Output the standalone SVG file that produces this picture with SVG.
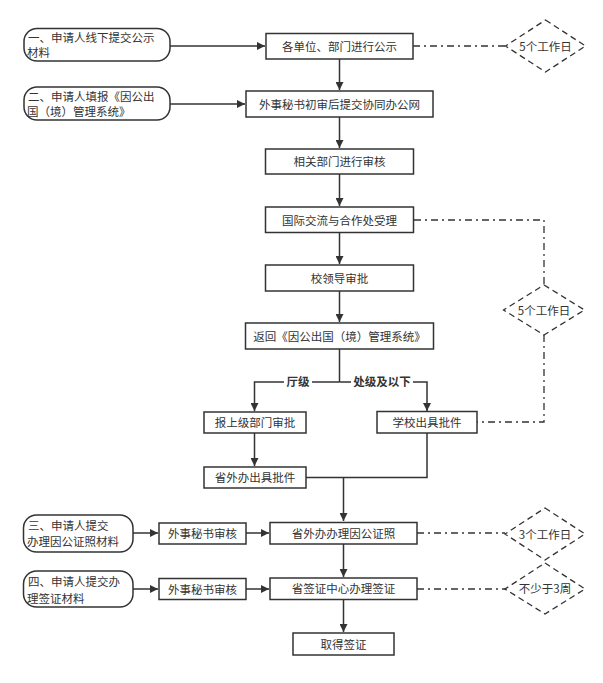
<svg xmlns="http://www.w3.org/2000/svg" width="603" height="683" viewBox="0 0 603 683">
<style>
text{font-family:"Noto Sans CJK SC","Noto Sans",sans-serif;font-size:11.5px;fill:#333}
.c{text-anchor:middle}
.b{font-weight:bold}
.box{fill:#fff;stroke:#333;stroke-width:1.5}
.dia{fill:#fff;stroke:#333;stroke-width:1.3;stroke-dasharray:6 4}
.ln{fill:none;stroke:#333;stroke-width:1.5}
.dd{fill:none;stroke:#333;stroke-width:1.3;stroke-dasharray:7 4 2 4}
</style>
<defs>
<marker id="ah" viewBox="0 0 10 10" refX="10" refY="5" markerWidth="8" markerHeight="8" markerUnits="userSpaceOnUse" orient="auto">
<path d="M0,0 L10,5 L0,10 z" fill="#333"/>
</marker>
</defs>
<rect width="603" height="683" fill="#fff"/>
<g id="connectors">
<path class="ln" d="M170,46 H265" marker-end="url(#ah)"/>
<path class="ln" d="M170,104 H245" marker-end="url(#ah)"/>
<path class="ln" d="M339.5,59 V90" marker-end="url(#ah)"/>
<path class="ln" d="M339.5,117 V148" marker-end="url(#ah)"/>
<path class="ln" d="M339.5,174 V206" marker-end="url(#ah)"/>
<path class="ln" d="M339.5,232 V264" marker-end="url(#ah)"/>
<path class="ln" d="M339.5,291 V322" marker-end="url(#ah)"/>
<path class="ln" d="M339.5,349 V382"/>
<path class="ln" d="M339.5,382 H254.5 V411" marker-end="url(#ah)"/>
<path class="ln" d="M339.5,382 H427 V411" marker-end="url(#ah)"/>
<path class="ln" d="M254.5,433 V466" marker-end="url(#ah)"/>
<path class="ln" d="M427,433 V477.5 H306"/>
<path class="ln" d="M343.5,477.5 V521" marker-end="url(#ah)"/>
<path class="ln" d="M133,533 H158" marker-end="url(#ah)"/>
<path class="ln" d="M246,533 H269" marker-end="url(#ah)"/>
<path class="ln" d="M133,589 H158" marker-end="url(#ah)"/>
<path class="ln" d="M246,589 H269" marker-end="url(#ah)"/>
<path class="ln" d="M343.5,544 V577" marker-end="url(#ah)"/>
<path class="ln" d="M343.5,599 V632" marker-end="url(#ah)"/>
<path class="dd" d="M413,46 H506"/>
<path class="dd" d="M414,220 H544 V285"/>
<path class="dd" d="M544,335 V422 H477"/>
<path class="dd" d="M417,533 H505"/>
<path class="dd" d="M417,589 H505"/>
<rect x="284" y="374" width="28" height="16" fill="#fff"/>
<text class="c b" x="298" y="386">厅级</text>
<rect x="351" y="374" width="62" height="16" fill="#fff"/>
<text class="c b" x="382" y="386">处级及以下</text>
</g>
<g id="start1">
<rect class="box" x="24" y="28.5" width="146" height="32.5" rx="13"/>
<text x="28" y="41.5">一、申请人线下提交公示</text>
<text x="27" y="56.5">材料</text>
</g>
<g id="start2">
<rect class="box" x="24" y="87" width="146" height="33" rx="13"/>
<text x="28" y="100.5">二、申请人填报《因公出</text>
<text x="27" y="115.5">国（境）管理系统》</text>
</g>
<g id="n1">
<rect class="box" x="266" y="33.5" width="147" height="25.5"/>
<text class="c" x="339.5" y="50.5">各单位、部门进行公示</text>
</g>
<g id="d1">
<path class="dia" d="M545.5,20 L585.5,46 L545.5,72 L505.5,46 z"/>
<text class="c" x="545.5" y="50.5">5个工作日</text>
</g>
<g id="n2">
<rect class="box" x="246" y="91" width="187" height="26"/>
<text class="c" x="339.5" y="108.5">外事秘书初审后提交协同办公网</text>
</g>
<g id="n3">
<rect class="box" x="265.5" y="149" width="148" height="25"/>
<text class="c" x="339.5" y="166">相关部门进行审核</text>
</g>
<g id="n4">
<rect class="box" x="265.5" y="207" width="148" height="25.5"/>
<text class="c" x="339.5" y="224.5">国际交流与合作处受理</text>
</g>
<g id="n5">
<rect class="box" x="265.5" y="265" width="148" height="26"/>
<text class="c" x="339.5" y="282.5">校领导审批</text>
</g>
<g id="d2">
<path class="dia" d="M544,285 L584.5,310 L544,335 L503.5,310 z"/>
<text class="c" x="544" y="314.5">5个工作日</text>
</g>
<g id="n6">
<rect class="box" x="245.5" y="323" width="188" height="26"/>
<text class="c" x="339.5" y="340.5">返回《因公出国（境）管理系统》</text>
</g>
<g id="n7">
<rect class="box" x="204" y="412" width="102" height="21"/>
<text class="c" x="255" y="427">报上级部门审批</text>
</g>
<g id="n8">
<rect class="box" x="377" y="411.5" width="100" height="21.5"/>
<text class="c" x="427" y="427">学校出具批件</text>
</g>
<g id="n9">
<rect class="box" x="204" y="467" width="102" height="21"/>
<text class="c" x="255" y="482">省外办出具批件</text>
</g>
<g id="start3">
<rect class="box" x="23.5" y="515" width="109.5" height="37" rx="13"/>
<text x="28" y="529.5">三、申请人提交</text>
<text x="27" y="546">办理因公证照材料</text>
</g>
<g id="n10">
<rect class="box" x="159" y="523" width="87" height="21"/>
<text class="c" x="202.5" y="538">外事秘书审核</text>
</g>
<g id="n11">
<rect class="box" x="270" y="522.5" width="147" height="21.5"/>
<text class="c" x="343.5" y="537.5">省外办办理因公证照</text>
</g>
<g id="d3">
<path class="dia" d="M545,508 L585,534 L545,560 L505,534 z"/>
<text class="c" x="545" y="538.5">3个工作日</text>
</g>
<g id="start4">
<rect class="box" x="23.5" y="571" width="109.5" height="36" rx="13"/>
<text x="28" y="586">四、申请人提交办</text>
<text x="27" y="602.5">理签证材料</text>
</g>
<g id="n12">
<rect class="box" x="159" y="578.5" width="87" height="21"/>
<text class="c" x="202.5" y="593.5">外事秘书审核</text>
</g>
<g id="n13">
<rect class="box" x="270" y="578" width="147" height="21.5"/>
<text class="c" x="343.5" y="593">省签证中心办理签证</text>
</g>
<g id="d4">
<path class="dia" d="M545,563 L585,589 L545,614 L505,589 z"/>
<text class="c" x="545" y="593">不少于3周</text>
</g>
<g id="n14">
<rect class="box" x="293" y="633" width="101" height="22"/>
<text class="c" x="343.5" y="648.5">取得签证</text>
</g>
</svg>
